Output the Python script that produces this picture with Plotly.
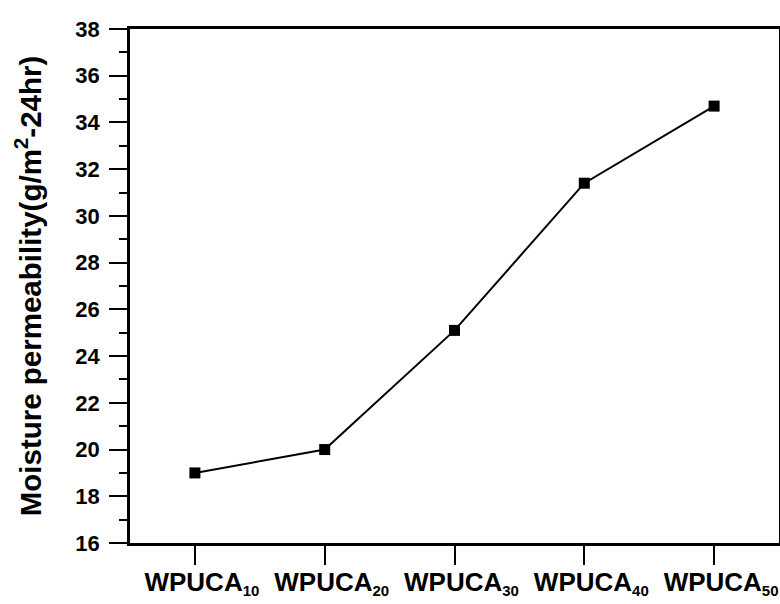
import plotly.graph_objects as go

labels = ["WPUCA", "WPUCA", "WPUCA", "WPUCA", "WPUCA"]
subscripts = ["10", "20", "30", "40", "50"]
permeability = [19.0, 20.0, 25.1, 31.4, 34.7]
y_ticks = [16, 18, 20, 22, 24, 26, 28, 30, 32, 34, 36, 38]

categories = [f'{l}<sub><span style="font-size:15px">{s}</span></sub>' for l, s in zip(labels, subscripts)]
xpos = list(range(len(categories)))

fig = go.Figure()
fig.add_trace(go.Scatter(
    x=xpos, y=permeability, mode="lines+markers",
    line=dict(color="black", width=2),
    marker=dict(symbol="square", size=11, color="black"),
    showlegend=False,
))

FAM = "Liberation Sans, Arial, sans-serif"
xfont = dict(family=FAM, size=26, color="black", weight="bold")
yfont = dict(family=FAM, size=22, color="black", weight="bold")

fig.update_layout(
    width=780, height=604,
    margin=dict(l=130, r=1, t=29, b=61),
    paper_bgcolor="white", plot_bgcolor="white",
    font=dict(family=FAM, color="black"),
    xaxis=dict(
        range=[-0.5, 4.5], tickmode="array", tickvals=xpos, ticktext=categories,
        showline=True, linecolor="black", linewidth=2.5, mirror=True,
        ticks="outside", ticklen=19, tickwidth=2, tickcolor="black",
        showgrid=False, zeroline=False, tickfont=xfont, automargin=False,
        ticklabelshift=7, ticklabelstandoff=-5,
    ),
    yaxis=dict(
        range=[16, 38], tickmode="array", tickvals=y_ticks,
        showline=True, linecolor="black", linewidth=2.5, mirror=True,
        ticks="outside", ticklen=18, tickwidth=2, tickcolor="black",
        minor=dict(ticks="outside", ticklen=8, tickwidth=2, tickcolor="black", dtick=1, tick0=16),
        showgrid=False, zeroline=False, tickfont=yfont, automargin=False,
        ticklabelstandoff=5,
        title=dict(text="Moisture permeability(g/m<sup>2</sup>-24hr)",
                   font=dict(family=FAM, size=29.5, color="black", weight="bold"),
                   standoff=26),
    ),
)

fig.write_html(
    "out.html",
    config={"displayModeBar": False},
    post_script="document.body.style.margin='0';document.body.style.overflow='hidden';",
)
